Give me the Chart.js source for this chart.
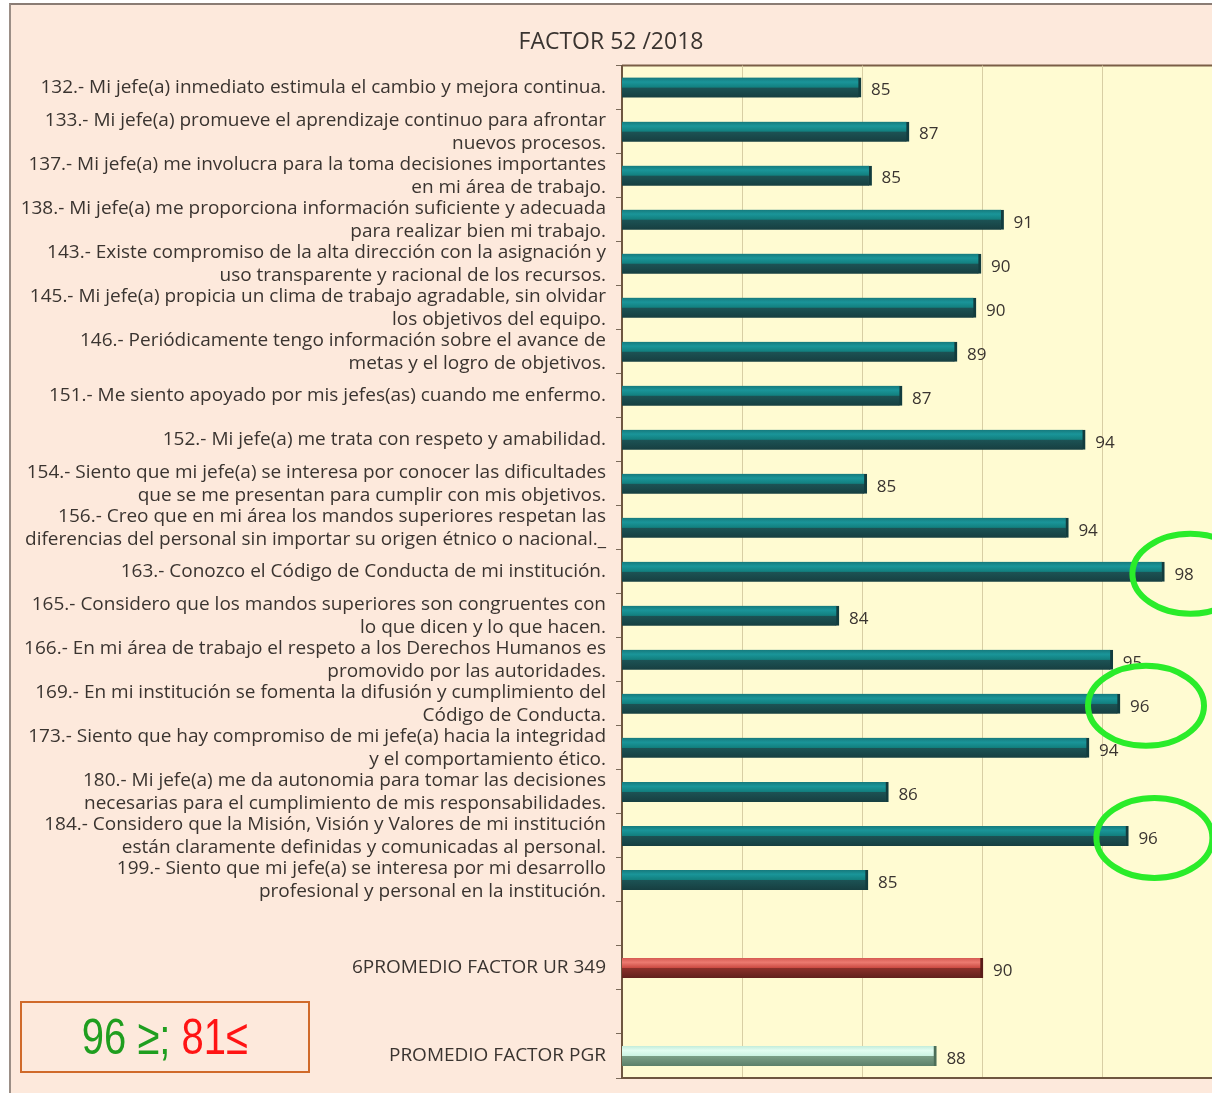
<!DOCTYPE html>
<html>
<head>
<meta charset="utf-8">
<script src="https://cdn.jsdelivr.net/npm/chart.js@4.4.1/dist/chart.umd.min.js"></script>
<style>
  html, body { margin: 0; padding: 0; background: #fff; overflow: hidden; width: 1212px; height: 1093px; }
  #frame { position: absolute; left: 9px; top: 3px; width: 1240px; height: 1100px; background: #fde9dc;
    border-left: 2px solid #9b8e86; border-top: 2px solid #8a7c74; }
  #chart { position: absolute; left: 0; top: 0; }
  #note { position: absolute; left: 20px; top: 1001px; width: 286px; height: 68px; border: 2px solid #d06a2a;
    display: flex; align-items: center; justify-content: center; }
  #note span.t { display: inline-block; font-family: "Liberation Sans", Arial, sans-serif; font-size: 50px;
    transform: scaleX(0.8); white-space: nowrap; line-height: 1; }
  .ok { color: #1f9e1f; }
  .bad { color: #ff1414; }
</style>
</head>
<body>
<div id="frame"></div>
<canvas id="chart" width="1222" height="1093" style="width:1222px;height:1093px"></canvas>
<div id="note"><span class="t"><span class="ok">96 ≥;</span> <span class="bad">81≤</span></span></div>
<script>
  const chartTitle = "FACTOR 52 /2018";

  const itemLabels = [
    ["132.- Mi jefe(a) inmediato estimula el cambio y mejora continua."],
    ["133.- Mi jefe(a) promueve el aprendizaje continuo para afrontar", "nuevos procesos."],
    ["137.- Mi jefe(a) me involucra para la toma decisiones importantes", "en mi área de trabajo."],
    ["138.- Mi jefe(a) me proporciona información suficiente y adecuada", "para realizar bien mi trabajo."],
    ["143.- Existe compromiso de la alta dirección con la asignación y", "uso transparente y racional de los recursos."],
    ["145.- Mi jefe(a) propicia un clima de trabajo agradable, sin olvidar", "los objetivos del equipo."],
    ["146.- Periódicamente tengo información sobre el avance de", "metas y el logro de objetivos."],
    ["151.- Me siento apoyado por mis jefes(as) cuando me enfermo."],
    ["152.- Mi jefe(a) me trata con respeto y amabilidad."],
    ["154.- Siento que mi jefe(a) se interesa por conocer las dificultades", "que se me presentan para cumplir con mis objetivos."],
    ["156.- Creo que en mi área los mandos superiores respetan las", "diferencias del personal sin importar su origen étnico o nacional._"],
    ["163.- Conozco el Código de Conducta de mi institución."],
    ["165.- Considero que los mandos superiores son congruentes con", "lo que dicen y lo que hacen."],
    ["166.- En mi área de trabajo el respeto a los Derechos Humanos es", "promovido por las autoridades."],
    ["169.- En mi institución se fomenta la difusión y cumplimiento del", "Código de Conducta."],
    ["173.- Siento que hay compromiso de mi jefe(a) hacia la integridad", "y el comportamiento ético."],
    ["180.- Mi jefe(a) me da autonomia para tomar las decisiones", "necesarias para el cumplimiento de mis responsabilidades."],
    ["184.- Considero que la Misión, Visión y Valores de mi institución", "están claramente definidas y comunicadas al personal."],
    ["199.- Siento que mi jefe(a) se interesa por mi desarrollo", "profesional y personal en la institución."]
  ];
  const itemValues = [84.96, 86.96, 85.4, 90.9, 89.96, 89.75, 88.96, 86.67, 94.3, 85.2,
    93.6, 97.6, 84.04, 95.45, 95.75, 94.46, 86.1, 96.1, 85.25];

  const urLabel = "6PROMEDIO FACTOR UR 349";
  const urValue = 90.04;
  const pgrLabel = "PROMEDIO FACTOR PGR";
  const pgrValue = 88.1;

  const axisMin = 75;
  const axisMax = 100;
  const axisStep = 5;
  const highlightFrom = 96;

  const labels = [...itemLabels, "", urLabel, "", pgrLabel];
  const values = [...itemValues, null, urValue, null, pgrValue];
  const urIndex = itemLabels.length + 1;
  const pgrIndex = itemLabels.length + 3;

  const labelFont = "'Open Sans', Lato, sans-serif";

  const palettes = {
    item: [[0, "#16797c"], [0.22, "#1a9599"], [0.48, "#12807f"], [0.52, "#1c5254"], [1, "#173f41"]],
    ur: [[0, "#d65a52"], [0.22, "#ec7a70"], [0.48, "#cc4c44"], [0.52, "#8a302a"], [1, "#62211c"]],
    pgr: [[0, "#c3ecda"], [0.22, "#e2fdf1"], [0.48, "#cdf3e3"], [0.52, "#7a9e86"], [1, "#5c806a"]]
  };

  function kindOf(i) {
    if (i === urIndex) return "ur";
    if (i === pgrIndex) return "pgr";
    return "item";
  }

  function barFill(ctx) {
    const chart = ctx.chart;
    const pal = palettes[kindOf(ctx.dataIndex)];
    const y = chart.scales && chart.scales.y;
    const c = y ? y.getPixelForValue(ctx.dataIndex) : NaN;
    if (!Number.isFinite(c)) return pal[2][1];
    const g = chart.ctx.createLinearGradient(0, c - 10, 0, c + 10);
    pal.forEach(([stop, col]) => g.addColorStop(stop, col));
    return g;
  }

  function barEdge(ctx) {
    const k = kindOf(ctx.dataIndex);
    if (k === "ur") return "#5a1c18";
    if (k === "pgr") return "#4c6e58";
    return "#123c3e";
  }

  const plotBg = {
    id: "plotBg",
    beforeDraw(chart) {
      const { ctx, chartArea: a } = chart;
      ctx.save();
      ctx.fillStyle = "#fffbd2";
      ctx.fillRect(a.left, a.top, a.right - a.left, a.bottom - a.top);
      ctx.strokeStyle = "#7b5e46";
      ctx.lineWidth = 2;
      ctx.beginPath();
      ctx.moveTo(a.left, a.top);
      ctx.lineTo(a.right, a.top);
      ctx.stroke();
      ctx.restore();
    }
  };

  const valueLabels = {
    id: "valueLabels",
    afterDatasetsDraw(chart) {
      const { ctx } = chart;
      const meta = chart.getDatasetMeta(0);
      ctx.save();
      ctx.font = "17px " + labelFont;
      ctx.fillStyle = "#3a3430";
      ctx.textBaseline = "middle";
      ctx.textAlign = "left";
      meta.data.forEach((bar, i) => {
        const v = values[i];
        if (v == null) return;
        ctx.fillText(String(Math.round(v)), bar.x + 10, bar.y + 3);
      });
      // green rings around the highest scores
      ctx.strokeStyle = "#2aec2a";
      ctx.lineWidth = 6;
      meta.data.forEach((bar, i) => {
        const v = values[i];
        if (v == null || i >= itemValues.length || Math.round(v) < highlightFrom) return;
        ctx.beginPath();
        ctx.ellipse(bar.x + 26, bar.y + 2, 58, 40, 0, 0, Math.PI * 2);
        ctx.stroke();
      });
      ctx.restore();
    }
  };

  new Chart(document.getElementById("chart"), {
    type: "bar",
    data: {
      labels,
      datasets: [{
        data: values,
        backgroundColor: barFill,
        borderColor: barEdge,
        borderWidth: { right: 3, top: 0, bottom: 0, left: 0 },
        borderSkipped: "left",
        barThickness: 20
      }]
    },
    options: {
      indexAxis: "y",
      responsive: false,
      animation: false,
      layout: { padding: { left: 0, right: 0, top: 0, bottom: 15 } },
      plugins: {
        legend: { display: false },
        tooltip: { enabled: false },
        title: {
          display: true,
          text: chartTitle,
          color: "#3a3430",
          font: { family: labelFont, size: 23, weight: "500", lineHeight: 1.2 },
          padding: { top: 29, bottom: 9 }
        }
      },
      scales: {
        x: {
          min: axisMin,
          max: axisMax,
          ticks: { display: false, stepSize: axisStep },
          grid: { color: "#d8cea4", lineWidth: 1, drawTicks: false },
          border: { display: true, color: "#6e5640", width: 2 },
          afterFit(scale) { scale.height = 0; }
        },
        y: {
          ticks: {
            color: "#3a3430",
            font: { family: labelFont, size: 19, lineHeight: 1.21 },
            padding: 10,
            autoSkip: false
          },
          grid: { drawOnChartArea: false, drawTicks: true, tickLength: 6, color: "#7a6a5a" },
          border: { display: true, color: "#6e5640", width: 2 },
          afterFit(scale) {
            scale.width = 622;
            scale.paddingTop = 0;
            scale.paddingBottom = 0;
          }
        }
      }
    },
    plugins: [plotBg, valueLabels]
  });
</script>
</body>
</html>
